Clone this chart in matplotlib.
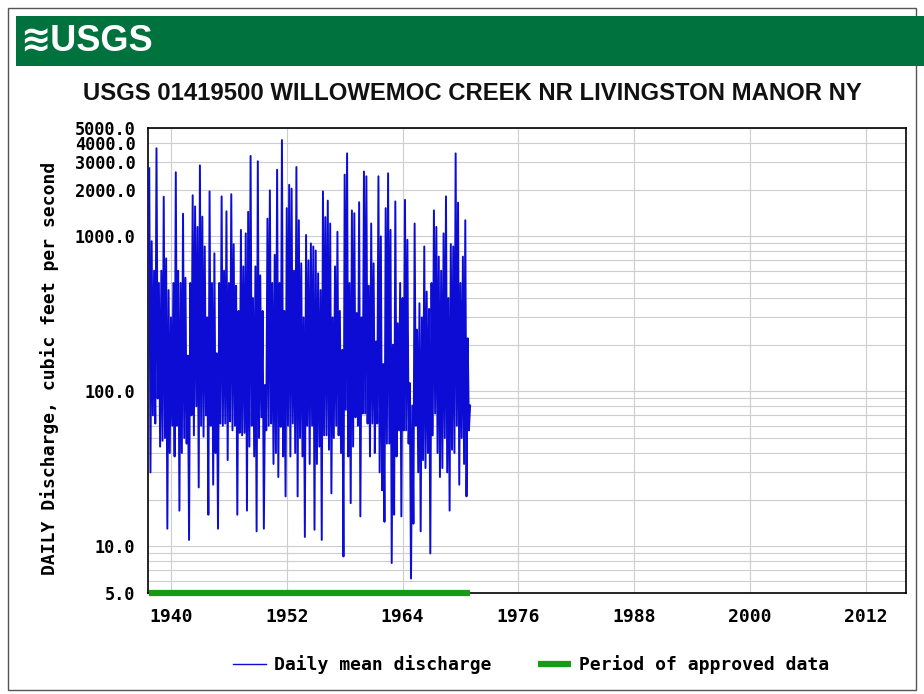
import numpy as np
import matplotlib
matplotlib.use("Agg")
import matplotlib.pyplot as plt
from matplotlib import font_manager
from matplotlib.patches import Rectangle
from matplotlib.ticker import LogLocator, NullFormatter, FixedLocator

# Daily mean discharge (cfs), 8 samples per water year starting Oct 1937
flow_cfs = [
    2750, 30, 930, 70, 600, 62, 3700, 90,      # WY1938
    500, 44, 600, 48, 1800, 50, 720, 13,       # WY1939
    450, 40, 300, 60, 500, 38, 2590, 60,       # WY1940
    600, 17, 500, 40, 1400, 50, 540, 46,       # WY1941
    170, 11, 500, 70, 1840, 52, 1560, 80,      # WY1942
    1150, 24, 2870, 60, 1340, 51, 860, 70,     # WY1943
    300, 16, 1950, 60, 500, 25, 777, 40,       # WY1944
    176, 13, 500, 62, 1810, 60, 600, 62,       # WY1945
    1450, 36, 500, 64, 1870, 56, 890, 60,      # WY1946
    480, 16, 330, 54, 1100, 52, 640, 54,       # WY1947
    1045, 17, 1440, 44, 3300, 60, 400, 38,     # WY1948
    640, 12.5, 3050, 50, 560, 68, 330, 13,     # WY1949
    110, 56, 1300, 60, 1980, 62, 500, 34,      # WY1950
    760, 40, 2690, 28, 500, 59, 4180, 38,      # WY1951
    330, 21, 1520, 60, 2150, 38, 2030, 62,     # WY1952
    600, 40, 2800, 21, 1270, 50, 670, 38,      # WY1953
    300, 11.5, 1020, 60, 700, 34, 900, 60,     # WY1954
    860, 12.8, 810, 34, 577, 44, 450, 11,      # WY1955
    1950, 52, 1330, 52, 1700, 42, 1210, 22,    # WY1956
    300, 50, 640, 60, 1070, 52, 330, 40,       # WY1957
    185, 8.6, 2500, 76, 3430, 38, 500, 19,     # WY1958
    1470, 44, 1410, 68, 320, 60, 1660, 15.6,   # WY1959
    300, 72, 2620, 72, 2440, 62, 480, 38,      # WY1960
    1210, 62, 670, 40, 210, 62, 2440, 30,      # WY1961
    1000, 23, 150, 14.4, 1520, 46, 2550, 46,   # WY1962
    1100, 7.8, 200, 16, 1680, 38, 275, 56,     # WY1963
    500, 15.6, 400, 56, 1720, 56, 950, 46,     # WY1964
    113, 6.2, 81, 14, 1210, 60, 250, 30,       # WY1965
    370, 12.5, 300, 36, 860, 32, 440, 40,      # WY1966
    340, 9.0, 500, 52, 1470, 72, 1150, 40,     # WY1967
    740, 28, 600, 32, 1045, 50, 1810, 30,      # WY1968
    400, 17, 890, 42, 860, 40, 3430, 60,       # WY1969
    1650, 25, 500, 50, 740, 34, 1270, 21,      # WY1970
    220, 56, 81,                               # WY1971 (partial)
]
record_start = 1937.75
approved_period = [1937.75, 1971.0]

year_ticks = [1940, 1952, 1964, 1976, 1988, 2000, 2012]
flow_ticks = [5, 10, 100, 1000, 2000, 3000, 4000, 5000]

station_title = "USGS 01419500 WILLOWEMOC CREEK NR LIVINGSTON MANOR NY"
y_label = "DAILY Discharge, cubic feet per second"


def pick_font(*names):
    for name in names:
        try:
            font_manager.findfont(name, fallback_to_default=False)
            return name
        except ValueError:
            pass
    return "DejaVu Sans"


narrow = pick_font("Liberation Sans Narrow", "Liberation Sans")
title_size = 19.5 if narrow == "Liberation Sans Narrow" else 17.2

plt.rcParams["font.family"] = "DejaVu Sans Mono"
plt.rcParams["font.weight"] = "bold"

fig = plt.figure(figsize=(9.24, 6.94), dpi=100)
W, H = 924.0, 694.0

# page frame and green header band
fig.add_artist(Rectangle((8 / W, 1 - 690 / H), 908 / W, 682 / H,
                         transform=fig.transFigure, fill=False,
                         edgecolor="#555555", lw=1.0))
fig.add_artist(Rectangle((16 / W, 1 - 66 / H), 1.0, 50 / H,
                         transform=fig.transFigure, facecolor="#00723d",
                         edgecolor="none"))
fig.text(20 / W, 1 - 41 / H, "\u224bUSGS", color="white",
         family=[narrow, "DejaVu Sans"], weight="bold", fontsize=26,
         ha="left", va="center")

fig.text(472 / W, 1 - 94 / H, station_title, family=narrow, weight="bold",
         fontsize=title_size, ha="center", va="center", color="#111111")

ax = fig.add_axes([148 / W, 1 - 593 / H, 758 / W, 465 / H])

t = record_start + np.arange(len(flow_cfs)) / 8.0
ax.plot(t, flow_cfs, color="#0c0cd4", lw=1.4, zorder=3,
        label="Daily mean discharge")
ax.plot(approved_period, [5, 5], color="#169b16", lw=4.5,
        solid_capstyle="butt", clip_on=False, zorder=4,
        label="Period of approved data")

ax.set_yscale("log")
ax.set_ylim(5, 5000)
ax.set_xlim(1937.62, 2016.17)

ax.xaxis.set_major_locator(FixedLocator(year_ticks))
ax.set_xticklabels([str(y) for y in year_ticks])
ax.yaxis.set_major_locator(FixedLocator(flow_ticks))
ax.set_yticklabels([f"{v:.1f}" for v in flow_ticks])
ax.yaxis.set_minor_locator(LogLocator(base=10, subs=np.arange(2, 10)))
ax.yaxis.set_minor_formatter(NullFormatter())

ax.grid(True, which="both", axis="y", color="#cdcdcd", lw=0.8, zorder=0)
ax.grid(True, which="major", axis="x", color="#cdcdcd", lw=0.8, zorder=0)
ax.set_axisbelow(True)

ax.tick_params(axis="both", which="both", length=0, labelsize=13)
ax.tick_params(axis="y", labelsize=12.2, pad=9)
ax.tick_params(axis="x", pad=11)
for s in ax.spines.values():
    s.set_linewidth(1.2)
    s.set_color("black")

fig.text(50 / W, 1 - 368 / H, y_label, rotation=90, fontsize=13,
         ha="center", va="center")

leg = fig.legend(loc="center", bbox_to_anchor=(531 / W, 1 - 665 / H), ncol=2,
                 frameon=False, fontsize=13, handlelength=1.8,
                 handletextpad=0.45, columnspacing=2.6)
leg.get_lines()[0].set_linewidth(1.0)

fig.savefig("out.png", dpi=100)
